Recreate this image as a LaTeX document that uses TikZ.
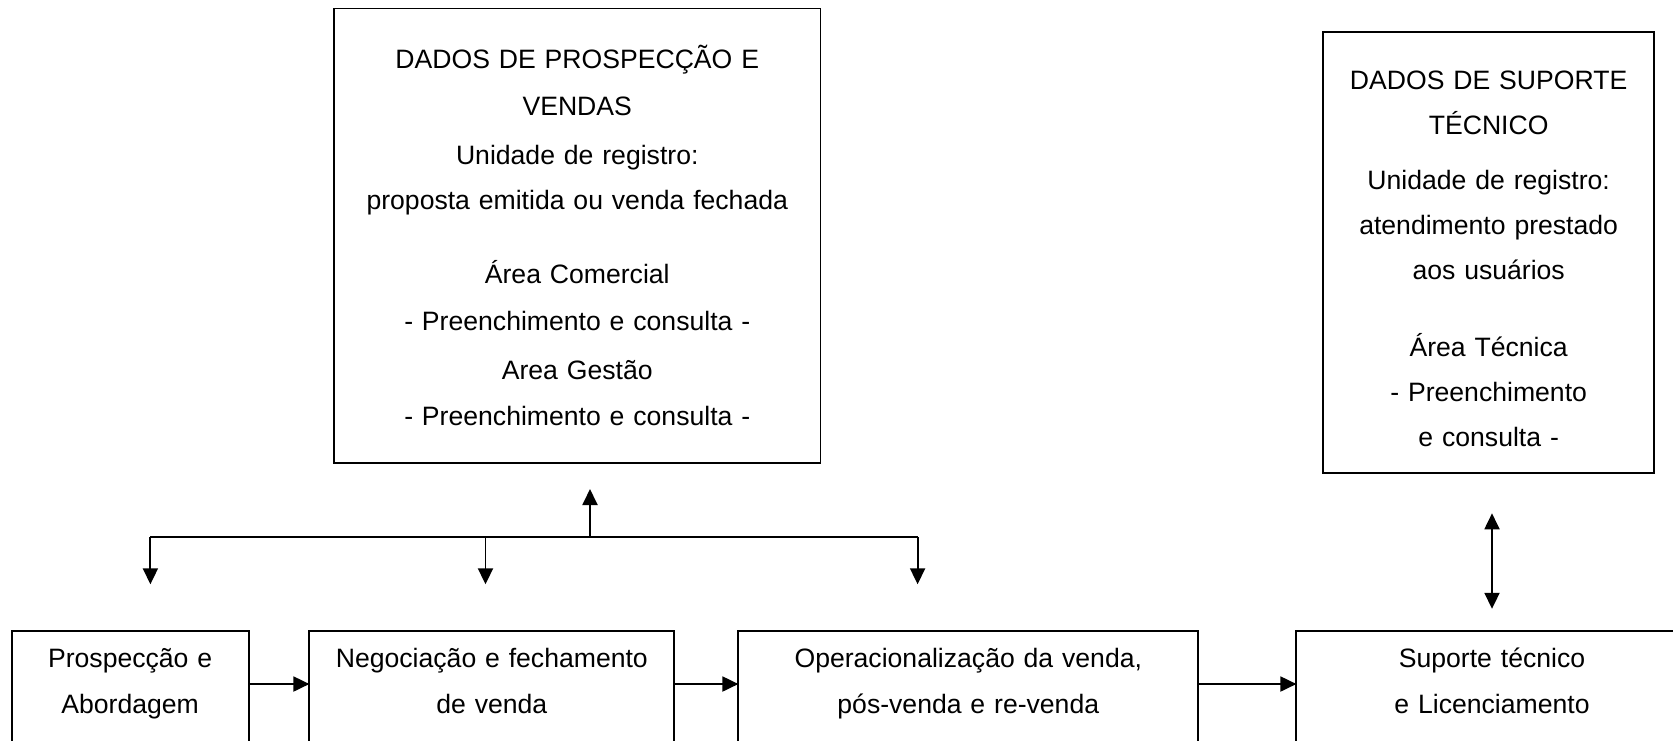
\documentclass[tikz,border=0pt]{standalone}
\usepackage{fontspec}
\setmainfont{Liberation Sans}
\usetikzlibrary{arrows.meta,positioning}

\begin{document}
\begin{tikzpicture}
  [x=1pt,y=-1pt,line width=1.9pt,>={Triangle[length=16pt,width=15pt]},
   every node/.style={inner sep=0pt,outer sep=0pt,align=center},
   databox/.style={draw,anchor=north west,font=\fontsize{26.6}{47}\selectfont},
   stagebox/.style={draw,anchor=north west,text height=36pt,text depth=120pt,
     font=\fontsize{26.6}{46}\selectfont}]

  \useasboundingbox (0,0) rectangle (1673,740);

  \node[databox,text width=486.5pt,text height=59.7pt,text depth=394.8pt] (vendas) at (334,8.5)
    {DADOS DE PROSPECÇÃO E\\VENDAS\\[2pt]Unidade de registro:\\[-2pt]proposta emitida ou venda fechada\\[27pt]%
     Área Comercial\\- Preenchimento e consulta -\\[2pt]Area Gestão\\[-1pt]- Preenchimento e consulta -};
  \node[databox,text width=330.7pt,text height=57.8pt,text depth=383.8pt,
    font=\fontsize{26.6}{45}\selectfont] (suptec) at (1323.3,31.7)
    {DADOS DE SUPORTE\\TÉCNICO\\[9.5pt]Unidade de registro:\\atendimento prestado\\aos usuários\\[32pt]%
     Área Técnica\\- Preenchimento\\e consulta -};

  \node[stagebox,text width=236.9pt] (prosp) at (11.7,631.3) {Prospecção e\\Abordagem};
  \node[stagebox,text width=364.9pt,right=60.8pt of prosp.north east,anchor=north west] (negoc)
    {Negociação e fechamento\\de venda};
  \node[stagebox,text width=459.8pt,right=64.1pt of negoc.north east,anchor=north west] (operac)
    {Operacionalização da venda,\\pós-venda e re-venda};
  \node[stagebox,text width=391.2pt,right=98.2pt of operac.north east,anchor=north west] (suporte)
    {Suporte técnico\\e Licenciamento};

  \coordinate (hub) at (590,537.3);
  \coordinate (dropA) at (150.4,537.3);
  \coordinate (dropB) at (485.5,537.3);
  \coordinate (dropC) at (917.6,537.3);

  \draw[->,shorten >=26pt] (hub) -- (hub |- vendas.south);
  \draw (dropA) -- (dropC);
  \draw[->,shorten >=47pt] (dropA) -- (dropA |- prosp.north);
  \draw[->,shorten >=47pt] (dropB) -- (dropB |- negoc.north);
  \draw[->,shorten >=47pt] (dropC) -- (dropC |- operac.north);

  \draw[<->,shorten <=40pt,shorten >=22.5pt] (suptec.south -| suporte.north) -- (suporte.north);

  \draw[->] ([yshift=-52.7pt]prosp.north east) -- ([yshift=-52.7pt]negoc.north west);
  \draw[->] ([yshift=-52.7pt]negoc.north east) -- ([yshift=-52.7pt]operac.north west);
  \draw[->] ([yshift=-52.7pt]operac.north east) -- ([yshift=-52.7pt]suporte.north west);
\end{tikzpicture}
\end{document}
